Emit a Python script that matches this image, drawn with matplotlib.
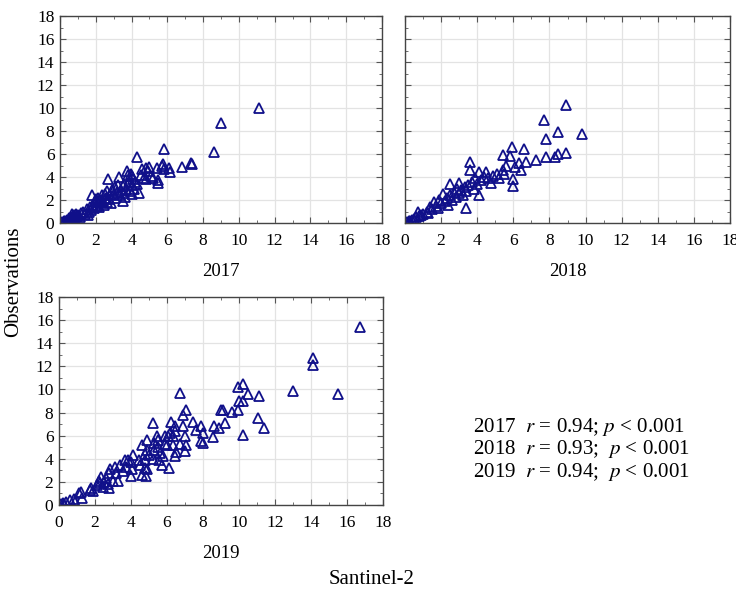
import numpy as np
import matplotlib
matplotlib.use('Agg')
import matplotlib.pyplot as plt
from matplotlib.ticker import MultipleLocator

plt.rcParams['font.family'] = ['Liberation Serif', 'DejaVu Serif']
plt.rcParams['mathtext.fontset'] = 'stix'

# 2017: Santinel-2 (x) vs observations (y)
x2017 = [0.1, 0.2, 0.25, 0.3, 0.4, 0.45, 0.5, 0.55, 0.6, 0.65, 0.7, 0.75, 0.8, 0.85, 0.9, 0.95,
         1.0, 1.1, 1.2, 1.3, 1.4, 1.5, 1.55, 1.6, 1.7, 1.75, 1.8, 1.85, 1.9, 1.95, 2.0, 2.05,
         2.1, 2.15, 2.2, 2.25, 2.3, 2.35, 2.4, 2.45, 2.5, 2.55, 2.6, 2.65, 2.7, 2.75, 2.8, 2.85,
         2.9, 3.0, 3.05, 3.1, 3.2, 3.25, 3.3, 3.35, 3.4, 3.5, 3.5, 3.55, 3.6, 3.65, 3.7, 3.75,
         3.8, 3.85, 3.9, 3.95, 4.0, 4.0, 4.05, 4.1, 4.15, 4.2, 4.3, 4.3, 4.4, 4.5, 4.6, 4.7,
         4.8, 4.8, 4.9, 5.0, 5.1, 5.2, 5.4, 5.5, 5.5, 5.7, 5.8, 5.8, 5.75, 6.1, 6.15, 6.8,
         7.3, 7.4, 8.6, 9.0, 11.1]
y2017 = [0.05, 0.1, 0.2, 0.15, 0.3, 0.2, 0.4, 0.3, 0.5, 0.8, 0.6, 0.4, 0.7, 0.5, 0.8, 0.6,
         0.7, 0.5, 0.9, 1.0, 0.8, 1.2, 0.7, 1.0, 1.4, 1.1, 2.4, 1.6, 1.3, 1.9, 2.1, 1.5,
         1.8, 2.2, 1.4, 2.0, 1.7, 2.4, 1.9, 1.6, 2.5, 2.2, 1.8, 2.8, 3.8, 2.1, 2.4, 1.7,
         2.9, 2.5, 3.1, 2.2, 2.7, 3.3, 4.0, 2.4, 2.9, 3.2, 1.9, 2.6, 3.4, 2.3, 3.0, 4.5,
         4.2, 3.6, 2.8, 4.3, 3.3, 4.1, 2.5, 3.8, 3.0, 3.6, 3.4, 5.7, 2.6, 4.2, 4.7, 3.9,
         4.8, 3.8, 4.5, 4.9, 4.1, 3.9, 4.8, 3.7, 3.5, 5.0, 4.7, 6.4, 5.1, 4.8, 4.4, 4.9,
         5.2, 5.1, 6.2, 8.7, 10.0]

# 2018
x2018 = [0.1, 0.2, 0.3, 0.4, 0.5, 0.6, 0.7, 0.8, 0.9, 1.0, 1.2, 1.3, 1.4, 1.5, 1.6, 1.7,
         1.8, 1.9, 2.0, 2.1, 2.2, 2.3, 2.4, 2.5, 2.5, 2.6, 2.7, 2.8, 2.9, 3.0, 3.0, 3.1,
         3.2, 3.3, 3.4, 3.4, 3.5, 3.6, 3.6, 3.7, 3.8, 3.9, 4.0, 4.1, 4.1, 4.2, 4.4, 4.5,
         4.6, 4.75, 4.9, 5.1, 5.2, 5.4, 5.45, 5.5, 5.6, 5.8, 5.9, 6.0, 6.0, 6.1, 6.3, 6.45,
         6.6, 6.7, 7.25, 7.7, 7.8, 7.8, 8.3, 8.5, 8.5, 8.9, 8.9, 9.8]
y2018 = [0.05, 0.15, 0.2, 0.3, 0.35, 0.5, 1.0, 0.6, 0.7, 0.8, 1.0, 0.9, 1.4, 1.2, 1.8, 1.5,
         1.3, 2.0, 1.7, 2.5, 1.9, 2.2, 1.6, 3.4, 2.4, 2.0, 2.7, 2.3, 3.0, 3.5, 2.6, 2.9,
         2.4, 3.1, 1.3, 2.8, 3.3, 5.3, 4.6, 3.6, 3.0, 3.9, 3.4, 4.45, 2.4, 3.7, 4.0, 4.45,
         3.9, 3.5, 4.1, 4.3, 3.9, 5.9, 4.6, 4.3, 5.0, 5.8, 6.6, 3.2, 3.8, 4.9, 5.2, 4.6,
         6.4, 5.3, 5.5, 9.0, 7.3, 5.7, 5.7, 7.9, 6.0, 10.3, 6.1, 7.7]

# 2019
x2019 = [0.1, 0.2, 0.3, 0.4, 0.6, 0.85, 0.9, 1.1, 1.2, 1.25, 1.7, 1.75, 1.9, 2.1, 2.2, 2.3,
         2.35, 2.45, 2.5, 2.6, 2.7, 2.75, 2.75, 2.85, 3.0, 3.1, 3.15, 3.3, 3.4, 3.55, 3.65, 3.75,
         3.85, 4.0, 4.0, 4.05, 4.1, 4.45, 4.5, 4.6, 4.6, 4.75, 4.75, 4.75, 4.85, 4.9, 4.9, 4.9,
         5.0, 5.2, 5.2, 5.3, 5.3, 5.45, 5.5, 5.5, 5.55, 5.6, 5.7, 5.8, 5.9, 5.9, 6.0, 6.05,
         6.1, 6.15, 6.2, 6.35, 6.35, 6.45, 6.45, 6.45, 6.5, 6.7, 6.7, 6.9, 6.9, 7.0, 7.0, 7.05,
         7.05, 7.45, 7.6, 7.9, 7.9, 8.0, 8.0, 8.55, 8.6, 8.9, 9.0, 9.1, 9.2, 9.6, 9.95, 9.95,
         10.0, 10.2, 10.2, 10.2, 10.5, 11.05, 11.1, 11.4, 13.0, 14.1, 14.1, 15.5, 16.7]
y2019 = [0.05, 0.2, 0.1, 0.3, 0.4, 0.5, 0.3, 1.0, 1.1, 0.6, 1.3, 1.5, 1.2, 1.7, 2.1, 1.9,
         2.4, 1.6, 2.0, 2.3, 1.8, 2.8, 1.5, 3.1, 2.1, 3.3, 2.8, 2.1, 3.5, 2.9, 3.9, 3.3,
         3.9, 3.7, 2.5, 3.1, 4.3, 3.9, 3.5, 5.2, 2.6, 4.4, 3.9, 3.2, 2.5, 5.6, 4.8, 3.1,
         4.3, 7.1, 4.0, 5.4, 4.8, 6.0, 5.0, 5.6, 3.9, 4.5, 3.5, 4.2, 6.0, 5.3, 5.2, 6.0,
         3.2, 6.2, 7.2, 6.0, 5.2, 6.8, 6.4, 4.2, 4.6, 9.7, 5.3, 7.8, 6.8, 6.0, 4.7, 8.2,
         5.2, 7.2, 6.5, 6.8, 5.5, 6.2, 5.4, 5.9, 6.8, 6.7, 8.2, 8.2, 7.1, 8.05, 8.2, 10.2,
         9.0, 9.0, 10.5, 6.1, 9.6, 7.5, 9.4, 6.7, 9.9, 12.7, 12.1, 9.6, 15.4]

years = ['2017', '2018', '2019']
r_values = ['0.94', '0.93', '0.94']

W, H = 736, 589
fig = plt.figure(figsize=(W / 100, H / 100), dpi=100, facecolor='white')

# axes boxes in pixels: left, top, right, bottom
boxes = [(60, 16, 382, 223), (405, 16, 730, 223), (59, 297, 383, 505)]
series = [(x2017, y2017), (x2018, y2018), (x2019, y2019)]
axes = []
for i, (l, t, r, b) in enumerate(boxes):
    ax = fig.add_axes([l / W, 1 - b / H, (r - l) / W, (b - t) / H])
    xs, ys = series[i]
    ax.plot(xs, ys, linestyle='none', marker='^', markersize=6.5, markerfacecolor='none',
            markeredgecolor='#10108a', markeredgewidth=1.3)
    ax.set_xlim(0, 18)
    ax.set_ylim(0, 18)
    ax.xaxis.set_major_locator(MultipleLocator(2))
    ax.yaxis.set_major_locator(MultipleLocator(2))
    ax.xaxis.set_minor_locator(MultipleLocator(1))
    ax.yaxis.set_minor_locator(MultipleLocator(1))
    ax.grid(True, which='major', color='#e3e3e3', linewidth=0.9)
    ax.set_axisbelow(True)
    ax.tick_params(which='both', direction='in', top=True, right=True, color='#555555',
                   labelsize=12.5)
    ax.tick_params(axis='x', pad=7)
    ax.tick_params(axis='y', pad=4)
    ax.tick_params(which='major', length=4)
    ax.tick_params(which='minor', length=2.5)
    for s in ax.spines.values():
        s.set_color('#444444')
        s.set_linewidth(1.0)
    ax.set_xlabel(years[i], fontsize=13.5, labelpad=10)
    if i == 1:
        ax.tick_params(axis='y', labelleft=False)
    axes.append(ax)

fig.text(14 / W, 1 - 282 / H, 'Observations', rotation=90, ha='center', va='center', fontsize=15)
fig.text(372 / W, 1 - 579 / H, 'Santinel-2', ha='center', va='center', fontsize=15)

for k, yr in enumerate(years):
    sep = ' ' if k == 0 else '  '
    txt = yr + '  $r$ = ' + r_values[k] + ';' + sep + '$p$ < 0.001'
    fig.text(473 / W, 1 - (427 + 22.5 * k) / H, txt, ha='left', va='center', fontsize=15.1)

fig.savefig('out.png', dpi=100)
